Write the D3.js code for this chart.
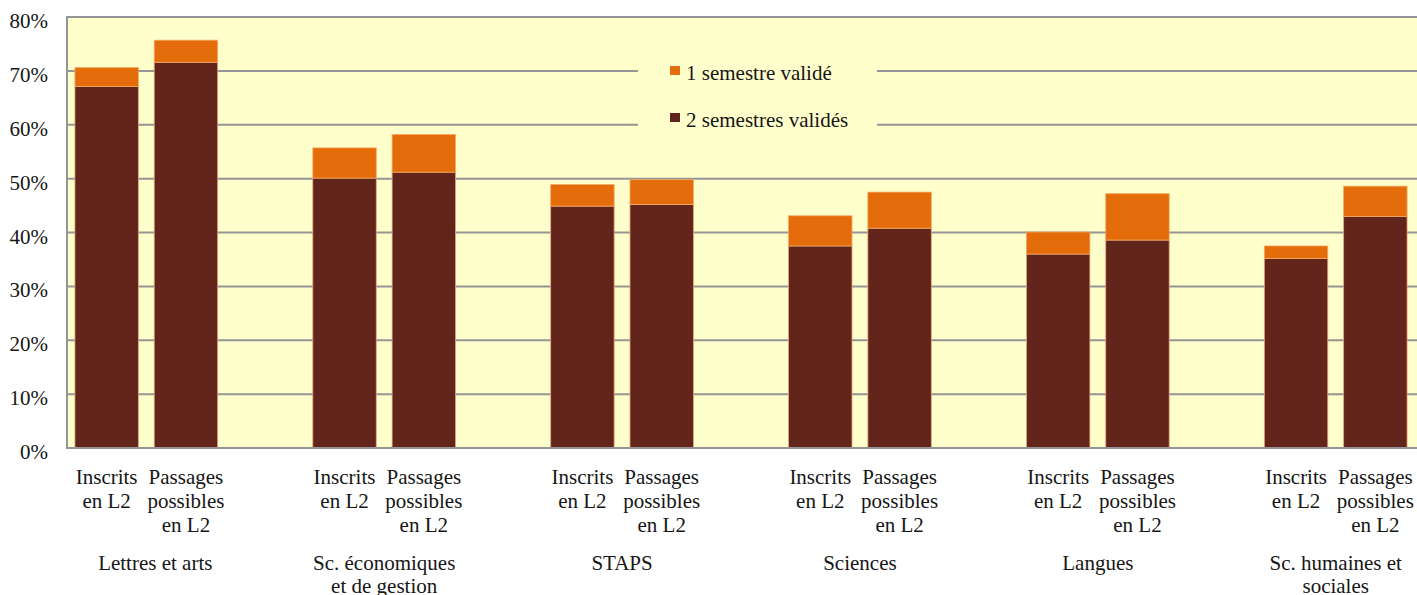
<!DOCTYPE html>
<html><head><meta charset="utf-8">
<script src="https://cdn.jsdelivr.net/npm/d3@7"></script>
<style>body{margin:0;background:#fff}svg{display:block}</style>
</head><body><svg id="c" width="1417" height="595"></svg>
<script>
const groups = [["Lettres et arts"], ["Sc. économiques", "et de gestion"], ["STAPS"], ["Sciences"], ["Langues"], ["Sc. humaines et", "sociales"]];
const subLabels = [["Inscrits", "en L2"], ["Passages", "possibles", "en L2"]];
const seriesNames = ["1 semestre validé", "2 semestres validés"];
const twoSemInscrits = [67.1, 50.1, 44.9, 37.5, 36.0, 35.2];
const twoSemPassages = [71.6, 51.2, 45.2, 40.8, 38.6, 43.0];
const oneSemInscrits = [3.5, 5.6, 4.0, 5.6, 4.1, 2.3];
const oneSemPassages = [4.1, 7.0, 4.6, 6.7, 8.6, 5.6];
const yTicks = [0, 10, 20, 30, 40, 50, 60, 70, 80];

const colors = {one: "#E46C0A", two: "#62251B"};
const svg = d3.select("#c");
const FS = 21, TXT = "#161616", FF = "'Liberation Serif', 'Times New Roman', serif";
const L = 67, R = 1415, T = 17, B = 448;
const x = d3.scaleBand().domain(d3.range(17)).range([L, R]).paddingInner(0.2).paddingOuter(0.1);
const y = d3.scaleLinear().domain([0, 80]).range([B, T]);

function txt(sel) { return sel.style("font-family", FF).attr("font-size", FS).attr("fill", TXT); }

svg.append("rect").attr("x", L).attr("y", T).attr("width", 1417 - L).attr("height", B - T).attr("fill", "#FFFFCC");
svg.append("g").selectAll("line").data(yTicks).join("line")
  .attr("x1", L).attr("x2", 1417).attr("y1", d => y(d)).attr("y2", d => y(d))
  .attr("stroke", "#959595").attr("stroke-width", 2);
svg.append("line").attr("x1", L).attr("x2", L).attr("y1", T - 1).attr("y2", B + 1).attr("stroke", "#959595").attr("stroke-width", 2);
svg.append("g").selectAll("text").data(yTicks).join("text")
  .attr("x", 48).attr("y", d => y(d) + 11).attr("text-anchor", "end")
  .call(txt).text(d => d + "%");

const rows = [];
groups.forEach((g, i) => {
  rows.push({slot: i * 3, two: twoSemInscrits[i], one: oneSemInscrits[i], sub: 0});
  rows.push({slot: i * 3 + 1, two: twoSemPassages[i], one: oneSemPassages[i], sub: 1});
});
const bars = svg.append("g");
bars.selectAll("rect.two").data(rows).join("rect").attr("class", "two")
  .attr("x", d => x(d.slot)).attr("width", x.bandwidth())
  .attr("y", d => y(d.two)).attr("height", d => y(0) - y(d.two))
  .attr("fill", colors.two).attr("stroke", "#E9A47A").attr("stroke-width", 0.8);
bars.selectAll("rect.one").data(rows).join("rect").attr("class", "one")
  .attr("x", d => x(d.slot)).attr("width", x.bandwidth())
  .attr("y", d => y(d.two + d.one)).attr("height", d => y(d.two) - y(d.two + d.one))
  .attr("fill", colors.one).attr("stroke", "#F4A862").attr("stroke-width", 0.8);

svg.append("line").attr("x1", L).attr("x2", 1417).attr("y1", B).attr("y2", B).attr("stroke", "#959595").attr("stroke-width", 2);

const sl = svg.append("g");
rows.forEach(d => {
  const cx = x(d.slot) + x.bandwidth() / 2;
  subLabels[d.sub].forEach((line, k) => {
    sl.append("text").attr("text-anchor", "middle").attr("x", cx).attr("y", 484 + k * 24).call(txt).text(line);
  });
});
const gl = svg.append("g");
groups.forEach((g, i) => {
  const cx = (x(i * 3) + x(i * 3 + 1) + x.bandwidth()) / 2 + (i === 0 ? 9 : 0);
  g.forEach((line, k) => gl.append("text").attr("text-anchor", "middle").attr("x", cx).attr("y", 570 + k * 23).call(txt).text(line));
});

const lg = svg.append("g");
lg.append("rect").attr("x", 638).attr("y", 50).attr("width", 239).attr("height", 92).attr("fill", "#FFFFCC");
[["one", 0], ["two", 1]].forEach(([k, i]) => {
  lg.append("rect").attr("x", 670).attr("y", 66 + i * 47).attr("width", 10).attr("height", 9).attr("fill", colors[k]);
  lg.append("text").attr("x", 686).attr("y", 80 + i * 47).call(txt).text(seriesNames[i]);
});
</script></body></html>
